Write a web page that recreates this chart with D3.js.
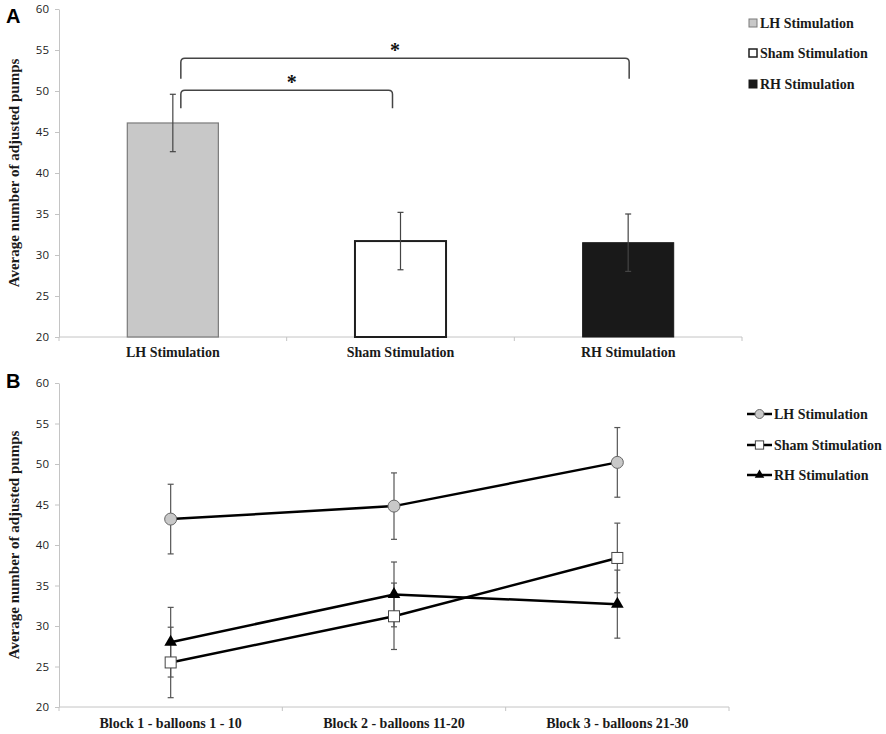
<!DOCTYPE html>
<html>
<head>
<meta charset="utf-8">
<script src="https://cdn.jsdelivr.net/npm/d3@7"></script>
<style>
  body { margin: 0; background: #fff; }
  svg { display: block; }
  .tick text { font-family: "Open Sans", "Liberation Sans", sans-serif; font-size: 11.5px; fill: #222; }
  .lbl { font-family: "Liberation Serif", "Times New Roman", serif; font-weight: bold; font-size: 14px; fill: #1a1a1a; }
  .ttl { font-family: "Liberation Serif", "Times New Roman", serif; font-weight: bold; font-size: 15px; fill: #1a1a1a; }
  .panel { font-family: "Liberation Sans", Arial, sans-serif; font-weight: bold; font-size: 20px; fill: #000; }
</style>
</head>
<body>
<script>
// ---- data ----
var barCats = ["LH Stimulation", "Sham Stimulation", "RH Stimulation"];
var barMeans = [46.1, 31.7, 31.5];
var barErrs = [3.5, 3.5, 3.5];

var blockCats = ["Block 1 - balloons 1 - 10", "Block 2 - balloons 11-20", "Block 3 - balloons 21-30"];
var lhMeans = [43.2, 44.8, 50.2];
var lhErrs = [4.3, 4.1, 4.3];
var shamMeans = [25.5, 31.2, 38.4];
var shamErrs = [4.35, 4.1, 4.3];
var rhMeans = [28.0, 33.9, 32.7];
var rhErrs = [4.3, 4.0, 4.2];

var yTicks = [20, 25, 30, 35, 40, 45, 50, 55, 60];

// significance brackets: from bar, to bar, bar level, leg end
var sigFrom = [0, 0];
var sigTo = [1, 2];
var sigLevel = [50.1, 54.0];
var sigDrop = [47.9, 51.5];

var iWidth = 886, iHeight = 734;
var sTitle = "Average number of adjusted pumps";

var svg = d3.select("body").append("svg")
	.attr("width", iWidth)
	.attr("height", iHeight);

function DrawAxes(g, x, y, xLabelY)
{
	var yAxis = d3.axisLeft(y).tickValues(yTicks).tickSize(4).tickSizeOuter(0).tickPadding(6);
	var gy = g.append("g")
		.attr("transform", "translate(" + x.range()[0] + ",0)")
		.call(yAxis);
	gy.select(".domain").attr("stroke", "#c4c4c4");
	gy.selectAll(".tick line").attr("stroke", "#c4c4c4");

	var y0 = y.range()[0];
	g.append("line")
		.attr("x1", x.range()[0]).attr("x2", x.range()[1])
		.attr("y1", y0).attr("y2", y0)
		.attr("stroke", "#c4c4c4");

	var bounds = x.domain().map(function(c){ return x(c); }).concat([x.range()[1]]);
	g.selectAll(".xtick").data(bounds).enter().append("line")
		.attr("class", "xtick")
		.attr("x1", function(d){ return d; }).attr("x2", function(d){ return d; })
		.attr("y1", y0).attr("y2", y0 + 4)
		.attr("stroke", "#c4c4c4");

	g.selectAll(".xlbl").data(x.domain()).enter().append("text")
		.attr("class", "lbl")
		.attr("x", function(d){ return x(d) + x.bandwidth() / 2; })
		.attr("y", xLabelY)
		.attr("text-anchor", "middle")
		.text(function(d){ return d; });
}

function DrawErrors(g, x, y, means, errs, cats, sColor)
{
	var iCap = 3;
	cats.forEach(function(c, i) {
		var cx = x(c) + x.bandwidth() / 2;
		var yt = y(means[i] + errs[i]), yb = y(means[i] - errs[i]);
		g.append("line").attr("x1", cx).attr("x2", cx).attr("y1", yt).attr("y2", yb)
			.attr("stroke", sColor).attr("stroke-width", 1.2);
		[yt, yb].forEach(function(yy) {
			g.append("line").attr("x1", cx - iCap).attr("x2", cx + iCap).attr("y1", yy).attr("y2", yy)
				.attr("stroke", sColor).attr("stroke-width", 1.2);
		});
	});
}

// ================= Panel A =================
var xA = d3.scaleBand().domain(barCats).range([59, 742]);
var yA = d3.scaleLinear().domain([20, 60]).range([337, 9]);
var gA = svg.append("g");

gA.append("text").attr("class", "panel").attr("x", 6).attr("y", 23).text("A");
gA.append("text").attr("class", "ttl")
	.attr("transform", "translate(19," + ((yA.range()[0] + yA.range()[1]) / 2) + ") rotate(-90)")
	.attr("text-anchor", "middle")
	.text(sTitle);

DrawAxes(gA, xA, yA, 357);

var barFill = ["#c8c8c8", "#ffffff", "#191919"];
var barStroke = ["#7a7a7a", "#1e1e1e", "#191919"];
var barStrokeW = [1.2, 2, 1];
var iBarW = xA.bandwidth() * 0.4;

gA.selectAll(".bar").data(barCats).enter().append("rect")
	.attr("class", "bar")
	.attr("x", function(d){ return xA(d) + (xA.bandwidth() - iBarW) / 2; })
	.attr("y", function(d, i){ return yA(barMeans[i]); })
	.attr("width", iBarW)
	.attr("height", function(d, i){ return yA(20) - yA(barMeans[i]); })
	.attr("fill", function(d, i){ return barFill[i]; })
	.attr("stroke", function(d, i){ return barStroke[i]; })
	.attr("stroke-width", function(d, i){ return barStrokeW[i]; });

DrawErrors(gA, xA, yA, barMeans, barErrs, barCats, "#444");

// brackets
var sigInsetL = [8, 8], sigInsetR = [8, -1], starShift = [5, -10];
sigFrom.forEach(function(f, i) {
	var x1 = xA(barCats[f]) + xA.bandwidth() / 2 + sigInsetL[i];
	var x2 = xA(barCats[sigTo[i]]) + xA.bandwidth() / 2 - sigInsetR[i];
	var yl = yA(sigLevel[i]), yd = yA(sigDrop[i]), r = 4;
	var p = d3.path();
	p.moveTo(x1, yd);
	p.lineTo(x1, yl + r);
	p.quadraticCurveTo(x1, yl, x1 + r, yl);
	p.lineTo(x2 - r, yl);
	p.quadraticCurveTo(x2, yl, x2, yl + r);
	p.lineTo(x2, yd);
	gA.append("path").attr("d", p.toString())
		.attr("fill", "none").attr("stroke", "#444").attr("stroke-width", 1.5);
	gA.append("text")
		.attr("x", (x1 + x2) / 2 + starShift[i])
		.attr("y", yl - 1)
		.attr("text-anchor", "middle")
		.attr("font-family", "Liberation Serif, serif")
		.attr("font-weight", "bold")
		.attr("font-size", 20)
		.attr("fill", "#111")
		.text("*");
});

// legend A
var legA = gA.append("g");
var legAY = [23, 53, 84];
barCats.forEach(function(c, i) {
	legA.append("rect")
		.attr("x", 749).attr("y", legAY[i] - 4).attr("width", 8).attr("height", 8)
		.attr("fill", barFill[i]).attr("stroke", barStroke[i]).attr("stroke-width", i == 1 ? 1.5 : 1);
	legA.append("text").attr("class", "lbl")
		.attr("x", 760).attr("y", legAY[i]).attr("dy", "0.35em")
		.text(c);
});

// ================= Panel B =================
var xB = d3.scaleBand().domain(blockCats).range([59, 729]);
var yB = d3.scaleLinear().domain([20, 60]).range([707, 383]);
var gB = svg.append("g");

gB.append("text").attr("class", "panel").attr("x", 6).attr("y", 388).text("B");
gB.append("text").attr("class", "ttl")
	.attr("transform", "translate(19," + ((yB.range()[0] + yB.range()[1]) / 2) + ") rotate(-90)")
	.attr("text-anchor", "middle")
	.text(sTitle);

DrawAxes(gB, xB, yB, 728);

var series = [
	{ name: "LH Stimulation", means: lhMeans, errs: lhErrs, shape: "circle" },
	{ name: "Sham Stimulation", means: shamMeans, errs: shamErrs, shape: "square" },
	{ name: "RH Stimulation", means: rhMeans, errs: rhErrs, shape: "triangle" }
];

series.forEach(function(s) {
	DrawErrors(gB, xB, yB, s.means, s.errs, blockCats, "#555");
});

var line = d3.line()
	.x(function(d, i){ return xB(blockCats[i]) + xB.bandwidth() / 2; })
	.y(function(d){ return yB(d); });

series.forEach(function(s) {
	gB.append("path").attr("d", line(s.means))
		.attr("fill", "none").attr("stroke", "#000").attr("stroke-width", 2.5);
});

function DrawMarker(g, shape, cx, cy, k)
{
	if (shape == "circle") {
		g.append("circle").attr("cx", cx).attr("cy", cy).attr("r", 6 * k)
			.attr("fill", "#c8c8c8").attr("stroke", "#666").attr("stroke-width", 1);
	} else if (shape == "square") {
		var s = 11 * k;
		g.append("rect").attr("x", cx - s / 2).attr("y", cy - s / 2).attr("width", s).attr("height", s)
			.attr("fill", "#fff").attr("stroke", "#444").attr("stroke-width", 1);
	} else {
		g.append("path")
			.attr("d", d3.symbol().type(d3.symbolTriangle).size(70 * k * k)())
			.attr("transform", "translate(" + cx + "," + cy + ")")
			.attr("fill", "#000");
	}
}

series.forEach(function(s) {
	s.means.forEach(function(m, i) {
		DrawMarker(gB, s.shape, xB(blockCats[i]) + xB.bandwidth() / 2, yB(m), 1);
	});
});

// legend B
var legBY = [414, 445, 475];
series.forEach(function(s, i) {
	gB.append("line").attr("x1", 747).attr("x2", 772).attr("y1", legBY[i]).attr("y2", legBY[i])
		.attr("stroke", "#000").attr("stroke-width", 2.5);
	DrawMarker(gB, s.shape, 759.5, legBY[i], 0.75);
	gB.append("text").attr("class", "lbl")
		.attr("x", 774).attr("y", legBY[i]).attr("dy", "0.35em")
		.text(s.name);
});
</script>
</body>
</html>
